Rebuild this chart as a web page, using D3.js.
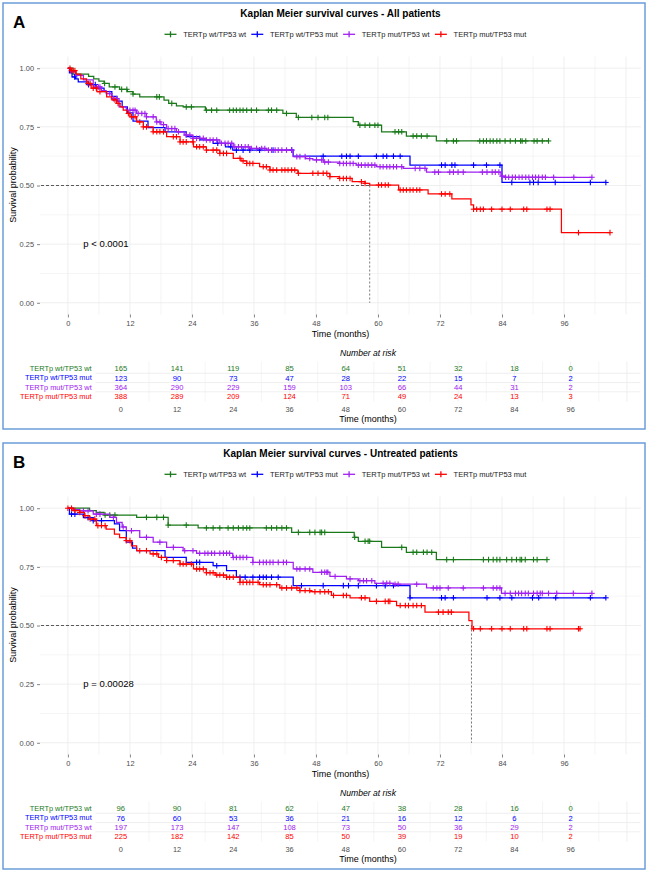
<!DOCTYPE html>
<html>
<head>
<meta charset="utf-8">
<script src="https://cdn.jsdelivr.net/npm/d3@7"></script>
<style>
  body { margin: 0; background: #fff; }
  svg { display: block; font-family: "Liberation Sans", Arial, sans-serif; }
</style>
</head>
<body>
<svg id="chart" width="649" height="871"></svg>
<script>
// ---- Data ----
const groupNames = ["TERTp wt/TP53 wt", "TERTp wt/TP53 mut", "TERTp mut/TP53 wt", "TERTp mut/TP53 mut"];
const groupColors = ["#1a7a1a", "#0000ff", "#a020f0", "#ff0000"];
const timeBreaks = [0, 12, 24, 36, 48, 60, 72, 84, 96];
const survBreaks = [0, 0.25, 0.5, 0.75, 1];

const panelTitles = ["Kaplan Meier survival curves - All patients", "Kaplan Meier survival curves - Untreated patients"];
const panelLetters = ["A", "B"];
const pValues = ["p < 0.0001", "p = 0.00028"];
const medianTimes = [58.4, 78.1];

// Panel A: all patients, steps are [time, survival after step]
const stepsAllWtWt = [[0,1],[1,0.975],[4,0.965],[5,0.955],[6,0.945],[7,0.935],[8,0.92],[10,0.91],[11.5,0.9],[12.6,0.89],[13.9,0.878],[18.6,0.864],[19.5,0.85],[21,0.84],[22.3,0.835],[26.6,0.821],[41.6,0.807],[44.2,0.79],[55.2,0.772],[56.2,0.757],[60.7,0.729],[65.5,0.711],[71.3,0.69]];
const stepsAllWtMut = [[0,1],[0.3,0.98],[0.8,0.963],[1.5,0.955],[2,0.942],[4,0.93],[5.5,0.915],[7,0.9],[8.5,0.88],[9.5,0.86],[10.5,0.835],[11.5,0.81],[12.6,0.775],[15.5,0.747],[18.8,0.729],[22.9,0.708],[25.5,0.694],[28.1,0.68],[30.5,0.665],[31.9,0.651],[43.6,0.625],[66.2,0.587],[84,0.513]];
const stepsAllMutWt = [[0,1],[0.5,0.985],[1.5,0.97],[3,0.95],[4.9,0.92],[6.5,0.905],[7.4,0.892],[8.5,0.87],[9.9,0.835],[11.3,0.821],[13.3,0.807],[15.2,0.793],[17.1,0.771],[18,0.76],[19.1,0.743],[21,0.729],[22.5,0.715],[24.2,0.701],[26.8,0.694],[29.4,0.68],[32,0.665],[35.2,0.658],[38.4,0.651],[43.6,0.623],[46,0.615],[47.4,0.609],[49.5,0.6],[52.6,0.594],[55.8,0.587],[59.7,0.58],[64.9,0.573],[69.4,0.557],[83.8,0.54],[84.5,0.535]];
const stepsAllMutMut = [[0,1],[0.5,0.99],[1.6,0.975],[2.5,0.955],[3.6,0.935],[4.5,0.915],[5.6,0.9],[7.5,0.878],[8.5,0.865],[9.4,0.85],[10.1,0.835],[10.7,0.821],[11.4,0.807],[12,0.793],[13.3,0.771],[14.6,0.75],[16.5,0.729],[19.1,0.708],[21.7,0.686],[24.3,0.665],[26.8,0.651],[29.4,0.637],[32,0.616],[33.5,0.605],[34.6,0.594],[37.1,0.58],[39.1,0.566],[44.5,0.552],[50.7,0.538],[52.5,0.53],[55,0.516],[57.5,0.509],[58.4,0.502],[64,0.481],[69.7,0.464],[74.3,0.443],[78,0.417],[78.5,0.399],[95.5,0.299]];

const censorAllWtWt = [7.1,9.1,10.4,11.4,12.6,17.2,17.7,20.1,22.9,23.9,26.8,27.8,28.8,31.3,32,32.6,33.3,33.9,34.6,35.5,36.5,38.8,39.4,40.4,42.3,44.6,47.2,48.4,49.7,50.3,56.5,57.5,58.4,59.4,60,63.3,64,64.6,66.8,67.5,68.4,69.5,73.3,74.6,75.2,79.7,80.4,81,81.7,82.3,83,83.6,84.6,85.6,86.6,87.6,87.9,88.6,90.2,90.8,91.8,93];
const censorAllWtMut = [1.3,4,5.3,29,31.5,32.6,33.9,35.2,37.1,39.7,43.3,49.4,53,53.9,54.6,56.2,59.7,61,61.7,63,64.3,72.3,73,74.3,74.9,78.5,81,83.6,85.9,89.4,90.1,91,94.3,101.1,104.1];
const censorAllMutWt = [5.5,5.9,6.2,8.1,8.8,9.4,12,12.6,13,13.6,14.3,14.9,15.2,16.5,17.2,17.8,18.5,19.4,20.1,20.7,21.4,22.9,23.6,24.2,24.9,25.5,26.2,26.8,27.5,28.1,28.8,29.7,30.4,31,31.7,32.3,33,33.6,34.3,34.9,35.5,36.5,37.5,38.1,38.8,39.4,40.1,40.7,41.4,42.3,43.3,44.3,44.9,45.9,46.8,48.1,49.1,49.7,50.4,52.6,53.3,53.9,54.6,55.2,56.2,56.8,57.5,58.1,58.8,59.4,60.4,61,61.7,62.3,63,63.6,64.6,67.2,68.1,69.1,71,71.7,73.9,74.6,75.5,76.5,80.2,81.1,82.1,82.7,83.4,84,84.7,85.3,86,86.6,87.3,87.9,88.6,89.2,89.9,90.5,91.1,91.8,92.4,94,97.9,101.4];
const censorAllMutMut = [0.4,0.7,1,1.35,3.9,4.3,4.9,5.5,6.2,9.1,9.7,11.7,12.3,13,13.9,14.6,15.2,16.5,17.2,17.8,18.5,20.4,21,21.7,22.3,22.9,24.2,24.9,25.5,26.2,26.8,28.1,28.8,29.4,30.1,30.7,33.3,33.9,34.6,35.2,35.8,37.8,38.4,39.1,39.7,40.4,41.4,42,42.6,43.3,43.9,44.6,47.4,48.4,49.4,50.1,50.7,52.6,53.3,53.9,54.6,56.8,57.5,60.1,60.7,61.4,62,64.3,64.9,65.5,66.2,66.8,67.5,68.1,72.3,73,73.9,78.5,79.1,79.8,80.4,82,84,85.6,88.2,88.8,92.7,93.3,98.8,104.9];

const riskAllWtWt = [165, 141, 119, 85, 64, 51, 32, 18, 0];
const riskAllWtMut = [123, 90, 73, 47, 28, 22, 15, 7, 2];
const riskAllMutWt = [364, 290, 229, 159, 103, 66, 44, 31, 2];
const riskAllMutMut = [388, 289, 209, 124, 71, 49, 24, 13, 3];

// Panel B: untreated patients
const stepsUntWtWt = [[0,1],[4.2,0.99],[5.5,0.982],[7,0.971],[13.3,0.961],[19.4,0.928],[25.2,0.916],[43.3,0.897],[55.4,0.876],[56.2,0.859],[60.7,0.833],[65.5,0.812],[71.3,0.781]];
const stepsUntWtMut = [[0,1],[0.3,0.975],[3,0.96],[4.9,0.947],[9,0.933],[10,0.905],[11.3,0.855],[12.5,0.83],[13.3,0.819],[18.8,0.79],[22.9,0.769],[28.1,0.755],[30.7,0.734],[32.6,0.706],[43.6,0.67],[66.2,0.618]];
const stepsUntMutWt = [[0,1],[1,0.994],[2.3,0.989],[4.9,0.975],[8.1,0.961],[9.4,0.94],[10.5,0.92],[11.3,0.904],[13.9,0.876],[16.5,0.855],[19.1,0.833],[22.3,0.819],[24.9,0.808],[31.9,0.79],[35.8,0.769],[43.6,0.741],[47.4,0.727],[50.7,0.709],[53.9,0.699],[56.2,0.691],[59.4,0.68],[63,0.676],[69.4,0.66],[83.9,0.637]];
const stepsUntMutMut = [[0,1],[1,0.99],[2.3,0.982],[3.2,0.968],[4.2,0.954],[5.5,0.926],[7.4,0.911],[9,0.89],[10,0.875],[11.3,0.862],[12.3,0.84],[13.3,0.819],[15.9,0.805],[17.5,0.79],[19.1,0.777],[21.7,0.762],[24.3,0.741],[26.8,0.725],[28.5,0.715],[30.7,0.706],[33.3,0.684],[37.1,0.674],[41,0.66],[44.9,0.649],[47,0.644],[51,0.628],[54.6,0.618],[58.4,0.603],[63.6,0.585],[69.1,0.557],[77.6,0.521],[78.2,0.486]];

const censorUntWtWt = [7.2,8.1,9.1,15.2,17.2,18.5,19.4,22.9,26.8,28.1,29.4,31,32,33,33.9,34.6,35.2,38.4,39.4,40.4,41.4,42.3,44.6,46.8,47.8,48.8,49.7,49.1,55.5,57.5,58.1,58.4,64.6,66.8,67.5,68.8,69.5,70.4,73.3,74.6,80.4,81.4,82.3,83,83.6,84.9,85.9,86.8,87.5,87.8,88.5,90.1,90.8,92.7];
const censorUntWtMut = [0.7,1.35,3.9,4.9,6.5,24.9,25.5,28.8,33.3,34.3,35.8,37.1,37.8,38.4,39.4,40.7,45.2,49.4,53.3,54.3,56.2,59.7,61.4,63,66.2,72.3,73,74.6,81.1,83.6,85.9,89.9,91.1,94.4,101.1,104.1];
const censorUntMutWt = [3,3.9,5.5,6.2,8.8,10.7,12.3,15.2,17.8,20.4,22.6,24.2,25.5,26.5,27.1,27.8,28.4,29.4,30.1,30.7,31.3,32,32.6,33.3,33.9,34.6,35.8,37.1,37.8,38.4,39.1,39.7,40.7,41.7,42.3,44.3,44.9,45.9,46.8,49.7,50.3,49.1,50.1,51.7,54.6,56.5,57.2,57.8,58.8,61,61.7,62.3,63.3,63.9,67.5,70.7,71.4,72,73.6,76.5,80.4,82.3,83,83.6,84.6,85.6,86.6,87.2,87.8,88.5,89.1,90.1,90.8,91.4,91.8,93,94.6,97.8,101.4];
const censorUntMutMut = [0,0.7,1.35,2.3,3.3,4.3,5.2,5.8,6.5,7.2,11.3,12,13.9,15.2,16.5,17.2,18.1,19.1,20.4,21.7,22.3,22.9,23.9,24.9,25.5,26.2,26.8,27.5,28.1,28.8,29.4,30.1,30.7,31.3,32,33.3,33.9,34.6,35.2,35.8,36.8,37.8,38.4,39.1,40.4,41.4,42.3,43.3,44.3,44.9,45.9,46.8,47.8,48.8,49.7,50.4,51.4,53.3,53.9,56.8,57.5,59.7,61.4,62,62.3,64.3,65.3,65.9,66.8,67.5,68.4,71.7,72.6,73.6,74.2,78.5,79.8,82,84,85.6,88.2,88.8,92.7,93.3,98.8,99.1];

const riskUntWtWt = [96, 90, 81, 62, 47, 38, 28, 16, 0];
const riskUntWtMut = [76, 60, 53, 36, 21, 16, 12, 6, 2];
const riskUntMutWt = [197, 173, 147, 108, 73, 50, 36, 29, 2];
const riskUntMutMut = [225, 182, 142, 85, 50, 39, 19, 10, 2];

// ---- Panels built from the arrays ----
const panels = [
  { dy: 0, steps: [stepsAllWtWt, stepsAllWtMut, stepsAllMutWt, stepsAllMutMut],
    censors: [censorAllWtWt, censorAllWtMut, censorAllMutWt, censorAllMutMut],
    risk: [riskAllWtWt, riskAllWtMut, riskAllMutWt, riskAllMutMut] },
  { dy: 440, steps: [stepsUntWtWt, stepsUntWtMut, stepsUntMutWt, stepsUntMutMut],
    censors: [censorUntWtWt, censorUntWtMut, censorUntMutWt, censorUntMutMut],
    risk: [riskUntWtWt, riskUntWtMut, riskUntMutWt, riskUntMutMut] }
];

const svg = d3.select("#chart");
const xDomain = [-5.4, 110.9];
const gridTimes = d3.range(0, 109, 6);

function survAt(steps, t) {
  let s = steps[0][1];
  for (const [tt, ss] of steps) {
    if (tt <= t) s = ss; else break;
  }
  return s;
}

panels.forEach((p, pi) => {
  const g = svg.append("g").attr("transform", `translate(0,${p.dy})`);

  // Frame
  g.append("rect")
    .attr("x", 3).attr("y", 3).attr("width", 642).attr("height", 426)
    .attr("fill", "#fff").attr("stroke", "#6b9fd9").attr("stroke-width", 1.5);

  g.append("text").attr("x", 13).attr("y", 27.5)
    .attr("font-size", 17).attr("font-weight", "bold").text(panelLetters[pi]);

  const x = d3.scaleLinear().domain(xDomain).range([40, 641]);
  const y = d3.scaleLinear().domain([-0.05, 1.05]).range([314.5, 56.5]);

  // Title
  g.append("text").attr("x", 340.5).attr("y", 16.8).attr("text-anchor", "middle")
    .attr("font-size", 10).attr("font-weight", "bold").text(panelTitles[pi]);

  // Legend
  let lx = 164.5;
  groupNames.forEach((name, i) => {
    const lg = g.append("g");
    lg.append("line").attr("x1", lx).attr("x2", lx + 12).attr("y1", 34.3).attr("y2", 34.3)
      .attr("stroke", groupColors[i]).attr("stroke-width", 1.3);
    lg.append("line").attr("x1", lx + 6).attr("x2", lx + 6).attr("y1", 31.3).attr("y2", 37.3)
      .attr("stroke", groupColors[i]).attr("stroke-width", 1.3);
    const t = lg.append("text").attr("x", lx + 18.7).attr("y", 34.3).attr("dy", "0.35em")
      .attr("font-size", 7.5).attr("fill", "#222").text(name);
    lx = lx + 18.7 + t.node().getComputedTextLength() + 5.3;
  });

  // Grid
  const grid = g.append("g");
  d3.range(0, 1.01, 0.125).forEach(v => {
    grid.append("line").attr("x1", 40).attr("x2", 641).attr("y1", y(v)).attr("y2", y(v))
      .attr("stroke", "#ebebeb").attr("stroke-width", v * 4 % 1 === 0 ? 0.8 : 0.5);
  });
  gridTimes.forEach(t => {
    grid.append("line").attr("x1", x(t)).attr("x2", x(t)).attr("y1", 56.5).attr("y2", 314.5)
      .attr("stroke", "#ebebeb").attr("stroke-width", t % 12 === 0 ? 0.8 : 0.5);
  });

  // Axes
  const yAxis = g.append("g").attr("transform", "translate(40,0)")
    .call(d3.axisLeft(y).tickValues(survBreaks).tickFormat(d3.format(".2f")).tickSize(3).tickPadding(3));
  const xAxis = g.append("g").attr("transform", "translate(0,314.5)")
    .call(d3.axisBottom(x).tickValues(timeBreaks).tickSize(3).tickPadding(3));
  [yAxis, xAxis].forEach(a => {
    a.select(".domain").remove();
    a.selectAll(".tick line").attr("stroke", "#333").attr("stroke-width", 0.6);
    a.selectAll(".tick text").attr("fill", "#4d4d4d").attr("font-size", 7.4)
      .attr("font-family", "Liberation Sans, Arial, sans-serif");
  });

  g.append("text").attr("x", 340.5).attr("y", 334.3).attr("dy", "0.35em").attr("text-anchor", "middle")
    .attr("font-size", 9).text("Time (months)");
  g.append("text").attr("transform", "translate(13,185) rotate(-90)").attr("dy", "0.35em")
    .attr("text-anchor", "middle").attr("font-size", 9).text("Survival probability");

  // Median lines
  g.append("line").attr("x1", 41).attr("x2", x(medianTimes[pi])).attr("y1", y(0.5)).attr("y2", y(0.5))
    .attr("stroke", "#333").attr("stroke-width", 0.8).attr("stroke-dasharray", "3,2");
  g.append("line").attr("x1", x(medianTimes[pi])).attr("x2", x(medianTimes[pi])).attr("y1", y(0.5)).attr("y2", y(0))
    .attr("stroke", "#555").attr("stroke-width", 0.8).attr("stroke-dasharray", "2,2");

  // Curves and censor marks
  const line = d3.line().x(d => x(d[0])).y(d => y(d[1])).curve(d3.curveStepAfter);
  p.steps.forEach((steps, i) => {
    const end = Math.max(d3.max(p.censors[i]), steps[steps.length - 1][0]);
    const pts = steps.concat([[end, steps[steps.length - 1][1]]]);
    g.append("path").attr("d", line(pts)).attr("fill", "none")
      .attr("stroke", groupColors[i]).attr("stroke-width", 1.25);
    const cg = g.append("g").attr("stroke", groupColors[i]).attr("stroke-width", 1.1);
    p.censors[i].forEach(t => {
      const cx = x(t), cy = y(survAt(steps, t));
      cg.append("line").attr("x1", cx - 2.8).attr("x2", cx + 2.8).attr("y1", cy).attr("y2", cy);
      cg.append("line").attr("x1", cx).attr("x2", cx).attr("y1", cy - 2.8).attr("y2", cy + 2.8);
    });
  });

  // p-value
  g.append("text").attr("x", 83.3).attr("y", 244).attr("dy", "0.35em")
    .attr("font-size", 9.5).text(pValues[pi]);

  // Risk table
  const xt = d3.scaleLinear().domain(xDomain).range([95.5, 640.5]);
  const yt = d3.scalePoint().domain(groupNames).range([368.6, 396.5]);
  g.append("text").attr("x", 368).attr("y", 352.7).attr("dy", "0.35em").attr("text-anchor", "middle")
    .attr("font-size", 8.6).attr("font-style", "italic").text("Number at risk");

  const tgrid = g.append("g");
  gridTimes.forEach(t => {
    tgrid.append("line").attr("x1", xt(t)).attr("x2", xt(t)).attr("y1", 361.5).attr("y2", 401.5)
      .attr("stroke", "#ebebeb").attr("stroke-width", t % 12 === 0 ? 0.8 : 0.5);
  });
  [0, 1, 2].forEach(k => {
    const yy = (yt(groupNames[k]) + yt(groupNames[k + 1])) / 2;
    tgrid.append("line").attr("x1", 95.5).attr("x2", 640.5).attr("y1", yy).attr("y2", yy)
      .attr("stroke", "#ebebeb").attr("stroke-width", 0.8);
  });

  groupNames.forEach((name, i) => {
    g.append("text").attr("x", 91.7).attr("y", yt(name)).attr("dy", "0.35em").attr("text-anchor", "end")
      .attr("font-size", 7.4).attr("fill", groupColors[i]).text(name);
    p.risk[i].forEach((n, j) => {
      g.append("text").attr("x", xt(timeBreaks[j])).attr("y", yt(name)).attr("dy", "0.35em")
        .attr("text-anchor", "middle").attr("font-size", 7.6).attr("fill", groupColors[i]).text(n);
    });
  });

  timeBreaks.forEach(t => {
    g.append("text").attr("x", xt(t)).attr("y", 409.3).attr("dy", "0.35em").attr("text-anchor", "middle")
      .attr("font-size", 7.4).attr("fill", "#4d4d4d").text(t);
  });
  g.append("text").attr("x", 368).attr("y", 418.6).attr("dy", "0.35em").attr("text-anchor", "middle")
    .attr("font-size", 9).text("Time (months)");
});
</script>
</body>
</html>
